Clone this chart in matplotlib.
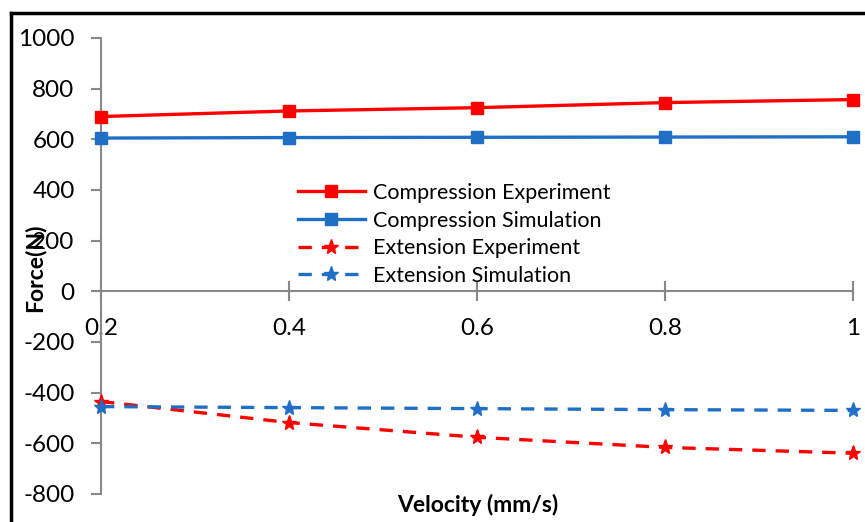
import matplotlib.pyplot as plt
from matplotlib.lines import Line2D

plt.rcParams['font.family'] = ['Lato', 'DejaVu Sans']
plt.rcParams['axes.unicode_minus'] = False

velocity = [0.2, 0.4, 0.6, 0.8, 1.0]
comp_exp = [690, 712, 725, 745, 757]
comp_sim = [605, 607, 608, 609, 610]
ext_exp = [-435, -518, -576, -616, -639]
ext_sim = [-455, -459, -463, -467, -470]
x_ticks = [0.2, 0.4, 0.6, 0.8, 1.0]
x_ticklabels = ['0.2', '0.4', '0.6', '0.8', '1']
y_ticks = list(range(-800, 1001, 200))

red = '#ff0000'
blue = '#1f6fc6'
gray = '#888888'

fig = plt.figure(figsize=(8.65, 5.22), dpi=100)
ax = fig.add_axes([101 / 865, 1 - 494 / 522, 752 / 865, 456 / 522])

ax.plot(velocity, comp_exp, color=red, lw=2.4, marker='s', ms=9,
        label='Compression Experiment', clip_on=False, zorder=3)
ax.plot(velocity, comp_sim, color=blue, lw=2.4, marker='s', ms=9,
        label='Compression Simulation', clip_on=False, zorder=3)
ax.plot(velocity, ext_exp, color=red, lw=2.4, ls=(0, (4, 3)), marker='*', ms=11,
        label='Extension Experiment', clip_on=False, zorder=3)
ax.plot(velocity, ext_sim, color=blue, lw=2.4, ls=(0, (4, 3)), marker='*', ms=11,
        label='Extension Simulation', clip_on=False, zorder=3)

ax.set_xlim(0.2, 1.0)
ax.set_ylim(-800, 1000)
ax.set_xticks(x_ticks)
ax.set_xticklabels(x_ticklabels)
ax.set_yticks(y_ticks)

for s in ['top', 'right']:
    ax.spines[s].set_visible(False)
ax.spines['bottom'].set_position(('data', 0))
ax.spines['bottom'].set_color(gray)
ax.spines['left'].set_color(gray)
ax.spines['bottom'].set_linewidth(1.5)
ax.spines['left'].set_linewidth(1.5)

ax.tick_params(axis='y', direction='out', length=7, width=1.5, color=gray,
               labelsize=17.5, pad=12)
ax.tick_params(axis='x', direction='inout', length=14, width=1.5, color=gray,
               labelsize=17.5, pad=12)

fig.text(478 / 865, 1 - 505 / 522, 'Velocity (mm/s)', fontsize=16.5,
         fontweight='bold', ha='center', va='center')
fig.text(35 / 865, 1 - 268 / 522, 'Force(N)', fontsize=16.5,
         fontweight='bold', ha='center', va='center', rotation=90)

leg = ax.legend(loc='upper left', bbox_to_anchor=(287 / 865, 1 - 172 / 522),
                bbox_transform=fig.transFigure, frameon=False, fontsize=15.5,
                handlelength=3.1, handletextpad=0.4, labelspacing=0.36,
                borderpad=0)

# chart area border (left and top)
fig.add_artist(Line2D([11 / 865, 11 / 865], [0, 1 - 13 / 522], color='black',
                      lw=2.5, transform=fig.transFigure))
fig.add_artist(Line2D([11 / 865, 1], [1 - 13 / 522, 1 - 13 / 522], color='black',
                      lw=2.5, transform=fig.transFigure))

fig.savefig('out.png', dpi=100)
